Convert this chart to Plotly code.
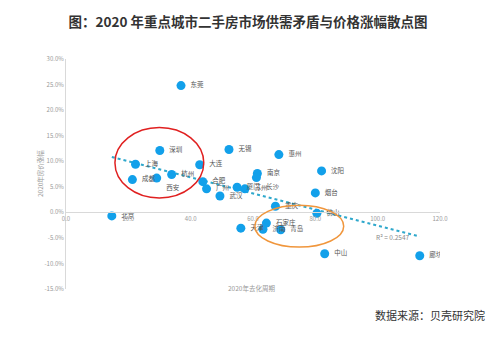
import numpy as np
import plotly.graph_objects as go

cities = ["东莞", "深圳", "无锡", "惠州", "大连", "上海", "南京", "长沙", "沈阳",
          "成都", "西安", "杭州", "合肥", "广州", "武汉", "厦门", "苏州", "烟台",
          "重庆", "佛山", "北京", "石家庄", "天津", "济南", "青岛", "中山", "廊坊"]
cycle = [36.9, 30.1, 52.3, 68.3, 42.9, 22.3, 61.4, 61.1, 82.0,
         21.3, 29.1, 33.9, 43.9, 45.1, 49.4, 54.9, 57.4, 80.0,
         67.2, 80.5, 14.7, 64.3, 56.1, 63.2, 68.9, 83.0, 113.5]
growth = [24.8, 12.1, 12.3, 11.3, 9.3, 9.4, 7.6, 6.8, 8.1,
          6.4, 6.7, 7.4, 6.0, 4.6, 3.2, 4.9, 4.6, 3.8,
          1.2, -0.2, -0.7, -2.1, -3.1, -3.3, -3.4, -8.1, -8.5]
x_ticks = [0, 20, 40, 60, 80, 100, 120]
y_ticks = [-15, -10, -5, 0, 5, 10, 15, 20, 25, 30]
y_ticktext = [f"{v:.1f}%" for v in y_ticks]
r2_text = "R² = 0.2547"

FONT = "Noto Sans CJK SC"
label_pos = ["middle right"] * len(cities)
label_pos[cities.index("长沙")] = "bottom right"
label_pos[cities.index("西安")] = "bottom right"
labels = ["  " + c for c in cities]

x = np.array(cycle)
y = np.array(growth)
k, b = np.polyfit(x, y, 1)
xl = np.array([x.min(), x.max()])

fig = go.Figure()
fig.add_trace(go.Scatter(
    x=xl, y=k * xl + b, mode="lines",
    line=dict(color="#2FA8CC", width=2, dash="dot"), hoverinfo="skip"))
fig.add_trace(go.Scatter(
    x=cycle, y=growth, mode="markers+text", text=labels,
    textposition=label_pos,
    textfont=dict(family=FONT, size=6.5, color="#555555"),
    marker=dict(color="#12A0EA", size=9)))

fig.add_shape(type="circle", xref="x", yref="y", x0=15.7, x1=44.2, y0=2.8, y1=16.6,
              line=dict(color="#E02020", width=1.5))
fig.add_shape(type="circle", xref="x", yref="y", x0=60.6, x1=89.1, y0=-6.8, y1=1.4,
              line=dict(color="#F0963C", width=1.5))

fig.add_annotation(x=105, y=-4.9, xref="x", yref="y", showarrow=False,
                   text=r2_text, font=dict(family=FONT, size=6.5, color="#888888"))
fig.add_annotation(x=-0.088, y=0.5, xref="paper", yref="paper", showarrow=False,
                   text="2020年房价涨幅", textangle=-90,
                   font=dict(family=FONT, size=6.5, color="#999999"))
fig.add_annotation(x=0.495, y=-0.024, xref="paper", yref="paper", showarrow=False,
                   text="2020年去化周期", font=dict(family=FONT, size=6.5, color="#999999"))
fig.add_annotation(x=1.126, y=-0.158, xref="paper", yref="paper", showarrow=False,
                   xanchor="right", text="数据来源：贝壳研究院",
                   font=dict(family=FONT, size=11, color="#333333"))

fig.update_layout(
    width=500, height=340, showlegend=False,
    paper_bgcolor="white", plot_bgcolor="white",
    margin=dict(l=66, r=60, t=59, b=50.5),
    title=dict(text="<b>图：2020 年重点城市二手房市场供需矛盾与价格涨幅散点图</b>",
               x=0.496, xref="container", y=0.935, yref="container",
               xanchor="center", yanchor="middle",
               font=dict(family=FONT, size=13.5, color="#333333")),
    xaxis=dict(range=[0, 120], tickvals=x_ticks, tickformat=".1f",
               anchor="free", position=1/3, showline=True, linecolor="#d9d9d9",
               showgrid=False, zeroline=False, ticks="",
               tickfont=dict(family=FONT, size=6, color="#999999")),
    yaxis=dict(range=[-15, 30], tickvals=y_ticks, ticktext=y_ticktext,
               showline=True, linecolor="#d9d9d9", showgrid=False, zeroline=False,
               ticks="", tickfont=dict(family=FONT, size=6, color="#999999")),
)
fig.write_html("out.html")
